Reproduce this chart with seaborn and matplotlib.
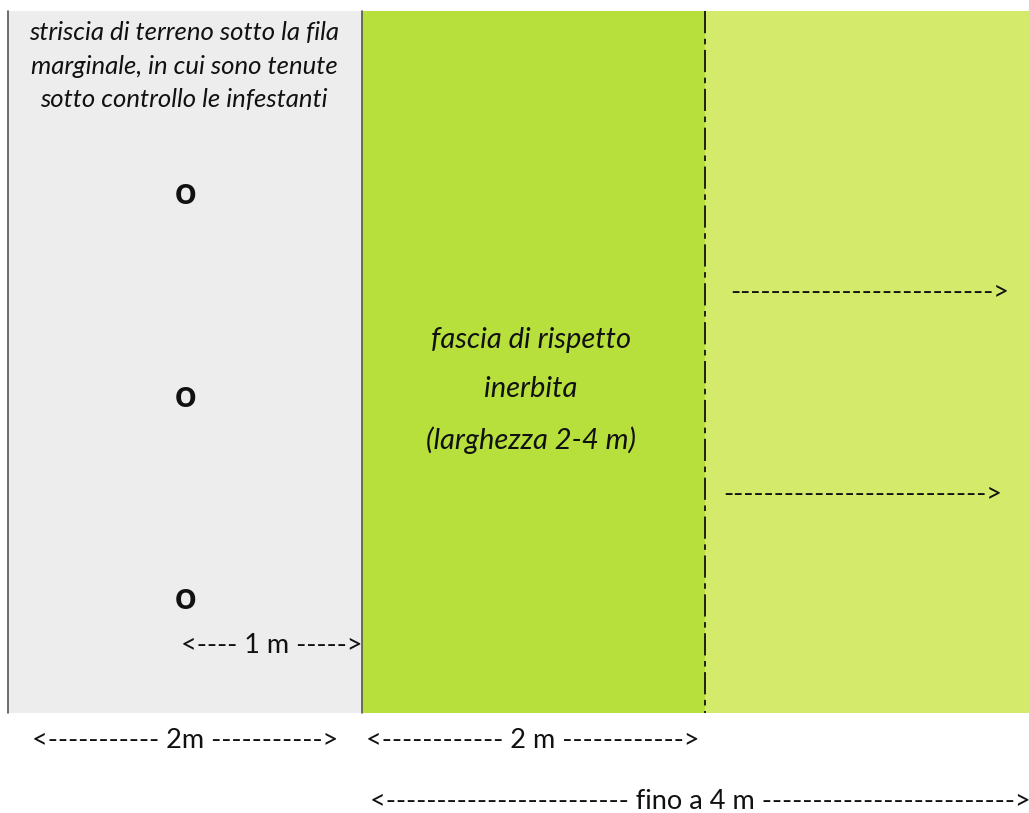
import matplotlib
matplotlib.use("Agg")
import matplotlib.pyplot as plt
import seaborn as sns

sns.set_theme(style="white")
plt.rcParams['font.family'] = ['Lato', 'DejaVu Sans']
plt.rcParams['lines.scale_dashes'] = False

# Bands of the diagram (pixel-like layout units)
band_names = ["striscia", "fascia", "oltre"]
band_left = [8, 362, 705]
band_width = [354, 343, 324]
band_colors = ["#EDEDED", "#B8E03C", "#D4EA6B"]
band_top, band_bottom = 11, 713

tree_y = [193, 396, 598]

fig = plt.figure(figsize=(10.29, 8.13), dpi=100)
ax = fig.add_axes([0, 0, 1, 1])
ax.set_xlim(0, 1029)
ax.set_ylim(813, 0)
ax.axis("off")

ax.bar(band_left, band_bottom - band_top, width=band_width, bottom=band_top,
       align="edge", color=band_colors, linewidth=0)

ax.plot([8, 8], [band_top, band_bottom], color="#555555", lw=1.2)
ax.plot([362, 362], [band_top, band_bottom], color="#555555", lw=1.2)
ax.plot([705, 705], [band_top, band_bottom], color="#111111", lw=1.3,
        dashes=(16, 4, 4, 4))

ink = "#111111"
ax.text(184, 66, "striscia di terreno sotto la fila\nmarginale, in cui sono tenute\nsotto controllo le infestanti",
        ha="center", va="center", style="italic", linespacing=1.55, fontsize=18.5, color=ink)
for y in tree_y:
    ax.text(186, y, "o", ha="center", va="center", fontweight="bold", fontsize=27, color=ink)

dash = dict(color=ink, fontsize=19.5, va="center")
ax.text(272, 645, "<---- 1 m ----->", ha="center", **dash)

green = dict(color=ink, fontsize=21, ha="center", va="center", style="italic")
ax.text(531, 340, "fascia di rispetto", **green)
ax.text(531, 389, "inerbita", **green)
ax.text(531, 440, "(larghezza 2-4 m)", **green)

ax.text(870, 292, "-------------------------->", ha="center", **dash)
ax.text(863, 494, "-------------------------->", ha="center", **dash)

ax.text(185, 740, "<----------- 2m ----------->", ha="center", **dash)
ax.text(533, 740, "<------------ 2 m ------------>", ha="center", **dash)
ax.text(700, 801, "<------------------------ fino a 4 m ------------------------->", ha="center", **dash)

fig.savefig("out.png", dpi=100)
